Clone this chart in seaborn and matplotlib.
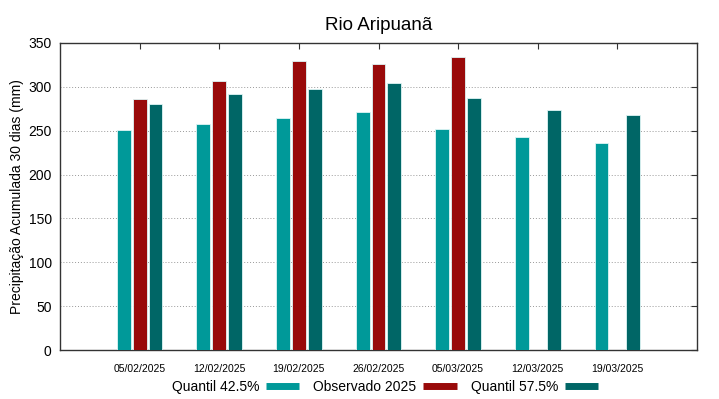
import numpy as np
import pandas as pd
import matplotlib
matplotlib.use("Agg")
import matplotlib.pyplot as plt
from matplotlib.lines import Line2D
import seaborn as sns

datas = ["05/02/2025", "12/02/2025", "19/02/2025", "26/02/2025",
         "05/03/2025", "12/03/2025", "19/03/2025"]
q425 = [251, 258, 265, 271, 252, 243, 236]
obs2025 = [286, 307, 329, 326, 334, np.nan, np.nan]
q575 = [281, 292, 297, 304, 287, 274, 268]
series = ["Quantil 42.5%", "Observado 2025", "Quantil 57.5%"]
cores = ["#009999", "#990a0a", "#006666"]

df = pd.DataFrame({"Data": datas * 3,
                   "Serie": np.repeat(series, len(datas)),
                   "Valor": q425 + obs2025 + q575})

sns.set_style("white")
plt.rcParams["font.family"] = ["Liberation Sans", "DejaVu Sans"]
plt.rcParams["text.color"] = "black"
plt.rcParams["axes.labelcolor"] = "black"
plt.rcParams["xtick.color"] = "black"
plt.rcParams["ytick.color"] = "black"

fig = plt.figure(figsize=(7.19, 3.99), dpi=100)
ax = fig.add_axes([60 / 719, 1 - 350 / 399, 637 / 719, 307 / 399])

sns.barplot(data=df, x="Data", y="Valor", hue="Serie", hue_order=series,
            palette=cores, width=0.6, gap=0.13, saturation=1,
            edgecolor="#dff5f5", linewidth=0.6, legend=False, ax=ax, zorder=3)

ax.set_xlim(-1, 7)
ax.set_ylim(0, 350)
ax.set_yticks(range(0, 351, 50))
ax.yaxis.grid(True, linestyle=(0, (1, 2)), color="#999999", linewidth=0.7, zorder=0)
ax.xaxis.grid(False)
for s in ax.spines.values():
    s.set_color("#333333")
    s.set_linewidth(1)
ax.tick_params(axis="both", direction="in", length=4, color="#333333",
               top=True, right=True)
ax.tick_params(axis="x", labelsize=7.5, pad=10)
ax.tick_params(axis="y", labelsize=10, pad=6)
ax.set_xlabel("")
ax.set_ylabel("Precipitação Acumulada 30 dias (mm)", fontsize=10, labelpad=3)
ax.set_title("Rio Aripuanã", fontsize=13.5, pad=9)

handles = [Line2D([0], [0], color=c, linewidth=5, solid_capstyle="butt") for c in cores]
fig.legend(handles, series, loc="center", bbox_to_anchor=(385 / 719, 1 - 387 / 399),
           ncol=3, frameon=False, markerfirst=False, handlelength=2.4,
           columnspacing=1.0, fontsize=10, handletextpad=0.5)

fig.savefig("out.png", dpi=100)
